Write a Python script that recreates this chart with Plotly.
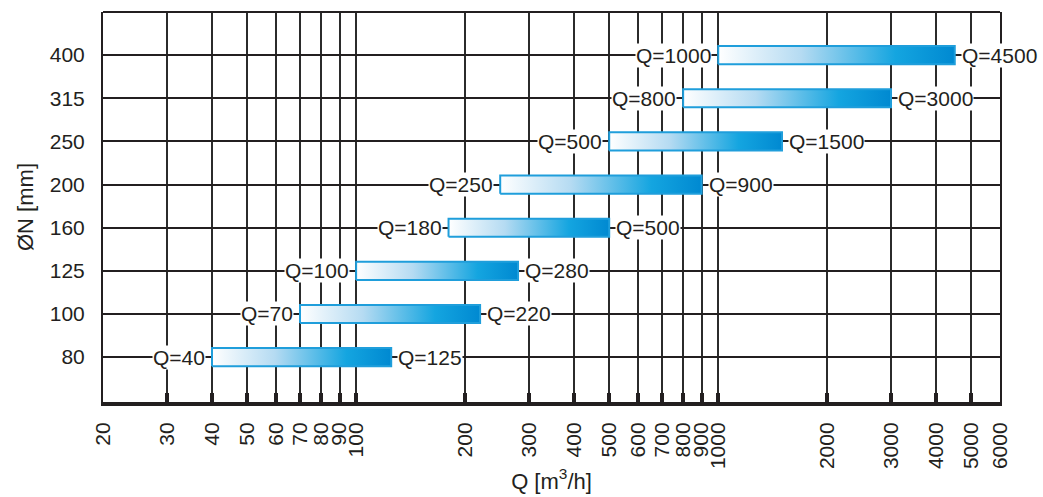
import math
import plotly.graph_objects as go

# Data
diameters = ["80", "100", "125", "160", "200", "250", "315", "400"]
q_min = [40, 70, 100, 180, 250, 500, 800, 1000]
q_max = [125, 220, 280, 500, 900, 1500, 3000, 4500]
x_ticks = [20, 30, 40, 50, 60, 70, 80, 90, 100, 200, 300, 400, 500, 600, 700, 800, 900, 1000, 2000, 3000, 4000, 5000, 6000]

FONT = "Liberation Sans, Arial, sans-serif"
INK = "#231f20"
HALF = 0.21

fig = go.Figure()
grad = [[0, "#ffffff"], [0.35, "#b5dbf2"], [0.75, "#14a5e0"], [1, "#0089d1"]]
for i, (a, b) in enumerate(zip(q_min, q_max)):
    fig.add_trace(go.Scatter(
        x=[a, b, b, a, a], y=[i - HALF, i - HALF, i + HALF, i + HALF, i - HALF],
        mode="lines", fill="toself",
        fillgradient=dict(type="horizontal", colorscale=grad),
        line=dict(color="#1f9edb", width=2),
        hoverinfo="skip", showlegend=False, cliponaxis=False,
    ))
    fig.add_annotation(x=math.log10(a), y=i, text=f"Q={a}", showarrow=False,
                       xanchor="right", xshift=-6, bgcolor="white", borderpad=0,
                       font=dict(family=FONT, size=21, color=INK))
    fig.add_annotation(x=math.log10(b), y=i, text=f"Q={b}", showarrow=False,
                       xanchor="left", xshift=6, bgcolor="white", borderpad=0,
                       font=dict(family=FONT, size=21, color=INK))

fig.update_xaxes(
    type="log", range=[math.log10(20), math.log10(6000)],
    tickvals=x_ticks, ticktext=[str(v) for v in x_ticks], tickangle=-90,
    showgrid=True, gridcolor="#2b2b2b", gridwidth=2,
    ticks="inside", ticklen=9, tickwidth=4, tickcolor=INK,
    showline=True, linecolor=INK, linewidth=4,
    tickfont=dict(family=FONT, size=21, color=INK),
    ticklabelstandoff=8, automargin=False,
    title=dict(text="Q [m<sup>3</sup>/h]", font=dict(family=FONT, size=22, color=INK), standoff=6),
    zeroline=False,
)
fig.update_yaxes(
    range=[-1.04, 8.0], tickvals=list(range(len(diameters))), ticktext=diameters,
    showgrid=True, gridcolor=INK, gridwidth=2,
    showline=True, linecolor=INK, linewidth=2, mirror=True,
    ticks="", ticklabelstandoff=12, automargin=False,
    tickfont=dict(family=FONT, size=21, color=INK),
    title=dict(text="ØN [mm]", font=dict(family=FONT, size=22, color=INK), standoff=10),
    zeroline=False,
)
fig.add_shape(type="line", xref="paper", yref="paper", x0=0, x1=1, y0=1, y1=1,
              line=dict(color=INK, width=2))
fig.update_layout(
    width=1043, height=497, margin=dict(l=103, r=43, t=12, b=95),
    plot_bgcolor="white", paper_bgcolor="white",
    font=dict(family=FONT, color=INK),
)
fig.write_html("out.html", config={"displayModeBar": False},
               post_script="document.body.style.margin='0';document.body.style.overflow='hidden';")
